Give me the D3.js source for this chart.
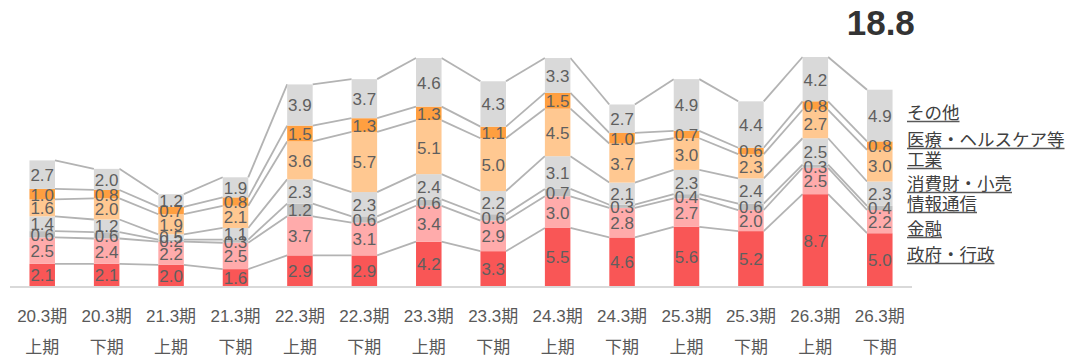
<!DOCTYPE html>
<html lang="ja">
<head>
<meta charset="utf-8">
<script src="https://cdn.jsdelivr.net/npm/d3@7"></script>
<style>
  html, body { margin: 0; padding: 0; background: #fff; }
  svg { display: block; font-family: "Liberation Sans", Arial, "Noto Sans CJK JP", sans-serif; }
</style>
</head>
<body>
<svg id="chart" width="1066" height="360"></svg>
<script>
// Periods (fiscal year + half)
const periods = ["20.3期","20.3期","21.3期","21.3期","22.3期","22.3期","23.3期","23.3期","24.3期","24.3期","25.3期","25.3期","26.3期","26.3期"];
const halves  = ["上期","下期","上期","下期","上期","下期","上期","下期","上期","下期","上期","下期","上期","下期"];

// Segment names, bottom to top
const sectors = ["政府・行政","金融","情報通信","消費財・小売","工業","医療・ヘルスケア等","その他"];

// Values per sector
const government = [2.1, 2.1, 2.0, 1.6, 2.9, 2.9, 4.2, 3.3, 5.5, 4.6, 5.6, 5.2, 8.7, 5.0];
const finance    = [2.5, 2.4, 2.2, 2.5, 3.7, 3.1, 3.4, 2.9, 3.0, 2.8, 2.7, 2.0, 2.5, 2.2];
const telecom    = [0.6, 0.6, 0.2, 0.3, 1.2, 0.6, 0.6, 0.6, 0.7, 0.3, 0.4, 0.6, 0.3, 0.4];
const consumer   = [1.4, 1.2, 0.5, 1.1, 2.3, 2.3, 2.4, 2.2, 3.1, 2.1, 2.3, 2.4, 2.5, 2.3];
const industry   = [1.6, 2.0, 1.9, 2.1, 3.6, 5.7, 5.1, 5.0, 4.5, 3.7, 3.0, 2.3, 2.7, 3.0];
const healthcare = [1.0, 0.8, 0.7, 0.8, 1.5, 1.3, 1.3, 1.1, 1.5, 1.0, 0.7, 0.6, 0.8, 0.8];
const others     = [2.7, 2.0, 1.2, 1.9, 3.9, 3.7, 4.6, 4.3, 3.3, 2.7, 4.9, 4.4, 4.2, 4.9];

// Headline total shown above the latest period
const headlineTotal = "18.8";

const seriesValues = [government, finance, telecom, consumer, industry, healthcare, others];
const colors = ["#F95656", "#FFABAB", "#BFBFBF", "#D9D9D9", "#FFC891", "#FF9F40", "#D9D9D9"];

// Legend baselines (text placed to the right of the last bar)
const legendBaselines = [261, 235, 210, 190, 166, 146, 119];

const rows = periods.map((p, i) => {
  const r = { idx: i };
  sectors.forEach((s, k) => { r[s] = seriesValues[k][i]; });
  return r;
});
const stacked = d3.stack().keys(sectors)(rows);

const svg = d3.select("#chart");
const baseY = 286;

const x = d3.scaleBand()
  .domain(d3.range(periods.length))
  .range([10, 912])
  .paddingInner(0.604)
  .paddingOuter(0.302);

const y = d3.scaleLinear().domain([0, 27.1]).range([baseY, 0]);

const bw = x.bandwidth();

// Connector lines between the tops of matching segments
const connectors = svg.append("g")
  .attr("stroke", "#B3B3B3")
  .attr("stroke-width", 1.8)
  .attr("fill", "none");
stacked.forEach(layer => {
  for (let i = 0; i < layer.length - 1; i++) {
    connectors.append("line")
      .attr("x1", x(i) + bw)
      .attr("y1", y(layer[i][1]))
      .attr("x2", x(i + 1))
      .attr("y2", y(layer[i + 1][1]));
  }
});

// Baseline
svg.append("line")
  .attr("x1", 10).attr("x2", 912)
  .attr("y1", baseY + 1).attr("y2", baseY + 1)
  .attr("stroke", "#D9D9D9").attr("stroke-width", 2);

// Stacked bars
const layers = svg.append("g").selectAll("g")
  .data(stacked)
  .join("g")
  .attr("fill", (d, k) => colors[k]);

layers.selectAll("rect")
  .data(d => d)
  .join("rect")
  .attr("x", (d, i) => x(i))
  .attr("width", bw)
  .attr("y", d => y(d[1]))
  .attr("height", d => y(d[0]) - y(d[1]));

// Value labels centered in each segment
const fmt = d3.format(".1f");
const labelG = svg.append("g")
  .attr("font-size", 17)
  .attr("fill", "#5F5F5F")
  .attr("text-anchor", "middle");
stacked.forEach(layer => {
  layer.forEach((d, i) => {
    labelG.append("text")
      .attr("x", x(i) + bw / 2)
      .attr("y", y((d[0] + d[1]) / 2))
      .attr("dy", "0.38em")
      .text(fmt(d[1] - d[0]));
  });
});

// Category labels (two lines)
const axisG = svg.append("g")
  .attr("font-size", 17)
  .attr("fill", "#595959")
  .attr("text-anchor", "middle");
periods.forEach((p, i) => {
  axisG.append("text")
    .attr("x", x(i) + bw / 2)
    .attr("y", 322)
    .text(p);
  axisG.append("text")
    .attr("x", x(i) + bw / 2)
    .attr("y", 353)
    .text(halves[i]);
});

// Headline total
svg.append("text")
  .attr("x", x(periods.length - 1) + bw / 2 + 1)
  .attr("y", 35)
  .attr("text-anchor", "middle")
  .attr("font-size", 35)
  .attr("font-weight", "bold")
  .attr("fill", "#333333")
  .text(headlineTotal);

// Legend with underlines
const legendX = 907;
const legendG = svg.append("g");
sectors.forEach((s, k) => {
  const t = legendG.append("text")
    .attr("x", legendX)
    .attr("y", legendBaselines[k])
    .attr("font-size", 17.5)
    .attr("fill", "#404040")
    .text(s);
  const w = t.node().getComputedTextLength();
  legendG.append("line")
    .attr("x1", legendX)
    .attr("x2", legendX + w)
    .attr("y1", legendBaselines[k] + 2.5)
    .attr("y2", legendBaselines[k] + 2.5)
    .attr("stroke", "#595959")
    .attr("stroke-width", 1.5);
});
</script>
</body>
</html>
